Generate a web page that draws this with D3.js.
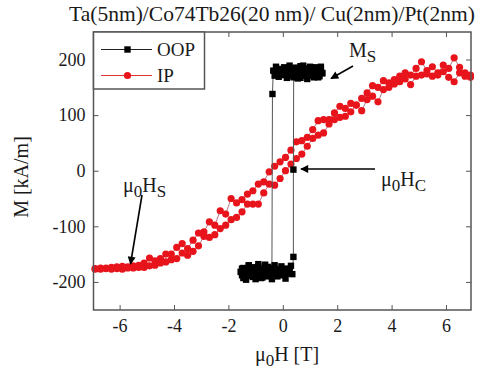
<!DOCTYPE html>
<html><head><meta charset="utf-8">
<script src="https://cdn.jsdelivr.net/npm/d3@7"></script>
<style>body{margin:0;background:#fff}svg{display:block}text{font-family:"Liberation Serif","Times New Roman",serif;fill:#1a1a1a}</style>
</head><body><svg id="c" width="483" height="374"></svg>
<script>
const title = "Ta(5nm)/Co74Tb26(20 nm)/ Cu(2nm)/Pt(2nm)";
const xTicks = [-6,-4,-2,0,2,4,6];
const yTicks = [-200,-100,0,100,200];
const seriesNames = ["OOP","IP"];

// IP: field grid, descending branch (upper) and ascending branch (lower)
const ipH = [-6.9,-6.7,-6.5,-6.3,-6.1,-5.9,-5.7,-5.5,-5.3,-5.1,-4.9,-4.7,-4.5,-4.3,-4.1,-3.9,-3.7,-3.5,-3.3,-3.1,-2.9,-2.7,-2.5,-2.3,-2.1,-1.9,-1.7,-1.5,-1.3,-1.1,-0.9,-0.7,-0.5,-0.3,-0.1,0.1,0.3,0.5,0.7,0.9,1.1,1.3,1.5,1.7,1.9,2.1,2.3,2.5,2.7,2.9,3.1,3.3,3.5,3.7,3.9,4.1,4.3,4.5,4.7,4.9,5.1,5.3,5.5,5.7,5.9,6.1,6.3,6.5,6.7,6.9];
const ipDown = [-176,-175,-175,-174,-173,-172,-173,-171,-170,-166,-157,-162,-158,-150,-150,-138,-131,-140,-125,-112,-110,-92,-98,-72,-78,-50,-58,-52,-42,-36,-24,-20,-2,8,16,24,37,52,54,60,74,90,92,92,104,116,112,121,118,130,140,153,150,162,158,164,170,176,172,184,196,180,187,176,190,184,203,186,176,172];
const ipUp = [-177,-177,-176,-177,-176,-177,-175,-175,-174,-174,-171,-170,-166,-164,-160,-158,-148,-152,-145,-135,-118,-120,-115,-104,-98,-88,-84,-74,-60,-60,-60,-40,-24,-26,-14,0,12,22,30,44,58,64,68,84,92,96,98,106,118,108,128,134,124,146,150,156,160,165,155,170,172,174,170,172,178,168,160,176,170,168];

// OOP: measurement order (field sweep down, then up)
const oopH = [1.45,1.40,1.35,1.30,1.25,1.20,1.15,1.10,1.05,1.00,0.95,0.90,0.85,0.80,0.75,0.70,0.65,0.60,0.55,0.50,0.45,0.40,0.35,0.30,0.25,0.20,0.15,0.10,0.05,0.00,-0.05,-0.10,-0.15,-0.20,-0.25,-0.30,-0.35,-0.38,
 -0.40,-0.45,-0.50,-0.55,-0.60,-0.65,-0.70,-0.75,-0.80,-0.85,-0.90,-0.95,-1.00,-1.05,-1.10,-1.15,-1.20,-1.25,-1.30,-1.35,-1.40,-1.45,-1.50,-1.55,
 -1.50,-1.45,-1.40,-1.35,-1.30,-1.25,-1.20,-1.15,-1.10,-1.05,-1.00,-0.95,-0.90,-0.85,-0.80,-0.75,-0.70,-0.65,-0.60,-0.55,-0.50,-0.45,-0.40,-0.35,-0.30,-0.25,-0.20,-0.15,-0.10,-0.05,0.00,0.05,0.10,0.15,0.20,0.25,0.30,0.35,
 0.39,0.39,0.40,0.45,0.50,0.55,0.60,0.65,0.70,0.75,0.80,0.85,0.90,0.95,1.00,1.05,1.10,1.15,1.20,1.25,1.30,1.35,1.40,1.45];
const oopM = [176,183,170,179,186,172,168,181,177,187,174,165,178,184,171,180,188,173,166,179,185,176,170,182,189,174,167,180,186,172,178,183,169,176,187,171,180,138,
 -180,-186,-175,-190,-178,-169,-184,-192,-177,-183,-172,-188,-195,-179,-174,-186,-181,-170,-189,-178,-184,-193,-176,-182,
 -188,-175,-183,-196,-179,-171,-185,-180,-191,-174,-182,-187,-168,-179,-193,-184,-176,-181,-189,-173,-186,-178,-195,-182,-170,-184,-190,-177,-183,-172,-188,-180,-194,-176,-185,-179,-171,-186,
 -155,2,168,178,185,172,181,167,176,189,174,180,170,183,177,186,171,179,184,173,168,182,187,175];

const svg = d3.select("#c");
const FF = '"Liberation Serif","Times New Roman",serif';
const L = 93.5, R = 471, T = 32, B = 310;
const x = d3.scaleLinear().domain([-6.96, 6.92]).range([L, R]);
const y = d3.scaleLinear().domain([-250.5, 249.5]).range([B, T]);

// title
svg.append("text").attr("x", 272).attr("y", 21).attr("text-anchor","middle")
  .attr("font-family",FF).attr("font-size", 21.5).text(title);

// axes
const tl = 5;
const axB = svg.append("g").attr("transform",`translate(0,${B})`)
  .call(d3.axisBottom(x).tickValues(xTicks).tickSize(-tl).tickPadding(9));
const axT = svg.append("g").attr("transform",`translate(0,${T})`)
  .call(d3.axisTop(x).tickValues(xTicks).tickSize(-tl).tickFormat(""));
const axL = svg.append("g").attr("transform",`translate(${L},0)`)
  .call(d3.axisLeft(y).tickValues(yTicks).tickSize(-tl).tickPadding(8));
const axR = svg.append("g").attr("transform",`translate(${R},0)`)
  .call(d3.axisRight(y).tickValues(yTicks).tickSize(-tl).tickFormat(""));
[axB,axT,axL,axR].forEach(a=>{
  a.attr("font-family",FF);
  a.select(".domain").remove();
  a.selectAll(".tick line").attr("stroke","#555").attr("stroke-width",1);
  a.selectAll(".tick text").attr("font-size",18).attr("fill","#1a1a1a").attr("font-family",FF);
});
axL.selectAll(".tick text").text(d=> d<0 ? "-"+Math.abs(d) : d);
axB.selectAll(".tick text").text(d=> d<0 ? "-"+Math.abs(d) : d);

// IP series
const ipSeq = [];
for (let i = ipH.length-1; i >= 0; i--) ipSeq.push([ipH[i], ipDown[i]]);
for (let i = 0; i < ipH.length; i++) ipSeq.push([ipH[i], ipUp[i]]);
const line = d3.line().x(d=>x(d[0])).y(d=>y(d[1]));
svg.append("path").datum(ipSeq).attr("d", line).attr("fill","none")
  .attr("stroke","#a86878").attr("stroke-width",0.9);
svg.append("g").selectAll("circle").data(ipSeq).join("circle")
  .attr("cx",d=>x(d[0])).attr("cy",d=>y(d[1])).attr("r",3.6).attr("fill","#e8141c");

// OOP series
const oopSeq = oopH.map((h,i)=>[h, oopM[i]]);
svg.append("path").datum(oopSeq).attr("d", line).attr("fill","none")
  .attr("stroke","#555").attr("stroke-width",1);
svg.append("g").selectAll("rect").data(oopSeq).join("rect")
  .attr("x",d=>x(d[0])-3.2).attr("y",d=>y(d[1])-3.2).attr("width",6.4).attr("height",6.4).attr("fill","#000");

// frame
svg.append("rect").attr("x",L).attr("y",T).attr("width",R-L).attr("height",B-T)
  .attr("fill","none").attr("stroke","#555").attr("stroke-width",1.5);

// legend
const lg = svg.append("g");
lg.append("rect").attr("x",L).attr("y",T).attr("width",111).attr("height",57)
  .attr("fill","#fff").attr("stroke","#555").attr("stroke-width",1.5);
lg.append("line").attr("x1",101).attr("x2",152).attr("y1",49.5).attr("y2",49.5).attr("stroke","#222").attr("stroke-width",1.2);
lg.append("rect").attr("x",124.3).attr("y",46.3).attr("width",6.4).attr("height",6.4).attr("fill","#000");
lg.append("text").attr("x",157).attr("y",56).attr("font-family",FF).attr("font-size",19).text(seriesNames[0]);
lg.append("line").attr("x1",101).attr("x2",152).attr("y1",75.5).attr("y2",75.5).attr("stroke","#e03030").attr("stroke-width",1.2);
lg.append("circle").attr("cx",127.5).attr("cy",75.5).attr("r",3.6).attr("fill","#e8141c");
lg.append("text").attr("x",157).attr("y",82).attr("font-family",FF).attr("font-size",19).text(seriesNames[1]);

// axis titles
const xl = svg.append("text").attr("x",287).attr("y",361).attr("text-anchor","middle").attr("font-family",FF).attr("font-size",20);
xl.append("tspan").text("\u03bc");
xl.append("tspan").attr("dy",5).attr("font-size",17).text("0");
xl.append("tspan").attr("dy",-5).text("H [T]");
svg.append("text").attr("transform","translate(28,177) rotate(-90)").attr("text-anchor","middle")
  .attr("font-family",FF).attr("font-size",20).text("M [kA/m]");

// annotations
const defs = svg.append("defs");
defs.append("marker").attr("id","ah").attr("viewBox","0 0 10 10").attr("refX",9).attr("refY",5)
  .attr("markerWidth",10).attr("markerHeight",8).attr("markerUnits","userSpaceOnUse").attr("orient","auto")
  .append("path").attr("d","M0,0 L10,5 L0,10 Z").attr("fill","#000");
function arrow(x1,y1,x2,y2){
  svg.append("line").attr("x1",x1).attr("y1",y1).attr("x2",x2).attr("y2",y2)
    .attr("stroke","#000").attr("stroke-width",1.6).attr("marker-end","url(#ah)");
}
arrow(353,66,331,78.5);
arrow(375,169,301,169);
arrow(142,195,130.5,264);

function sub(xp,yp,parts){
  const t = svg.append("text").attr("x",xp).attr("y",yp).attr("font-family",FF).attr("font-size",20);
  parts.forEach(p=>t.append("tspan").attr("dy",p[1]).attr("font-size",p[2]||20).text(p[0]));
}
sub(349,57,[["M",0],["S",5,17]]);
sub(381,186,[["\u03bc",0],["0",5,17],["H",-5],["C",5,17]]);
sub(123,192,[["\u03bc",0],["0",5,17],["H",-5],["S",5,17]]);
</script></body></html>
